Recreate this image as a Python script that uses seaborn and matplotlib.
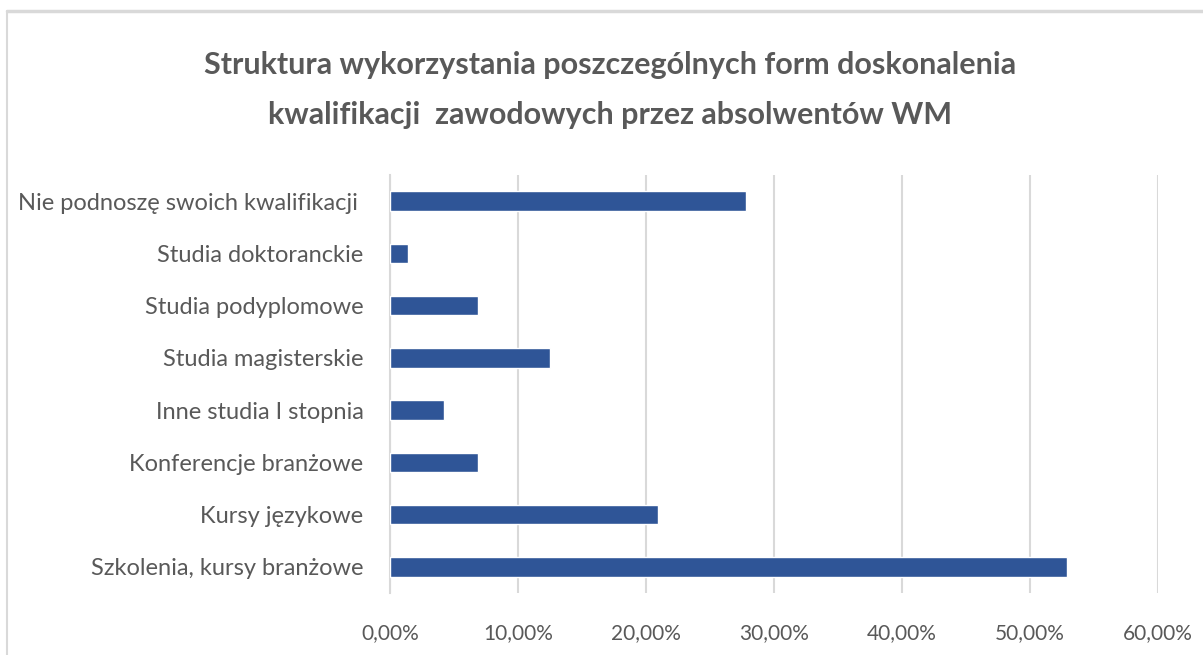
import matplotlib
matplotlib.use("Agg")
import matplotlib.pyplot as plt
import matplotlib.lines as mlines
from matplotlib.ticker import FuncFormatter
import pandas as pd
import seaborn as sns

# dane
kategorie = [
    "Nie podnoszę swoich kwalifikacji ",
    "Studia doktoranckie",
    "Studia podyplomowe",
    "Studia magisterskie",
    "Inne studia I stopnia",
    "Konferencje branżowe",
    "Kursy językowe",
    "Szkolenia, kursy branżowe",
]
udzial = [27.8, 1.4, 6.9, 12.5, 4.2, 6.9, 20.9, 52.9]
ticki = [0, 10, 20, 30, 40, 50, 60]

df = pd.DataFrame({"Forma": kategorie, "Udzial": udzial})

sns.set_style("white")
plt.rcParams["font.family"] = ["Lato", "DejaVu Sans"]

tekst = "#595959"
siatka = "#D9D9D9"

fig = plt.figure(figsize=(12.03, 6.55), dpi=100)
ax = fig.add_axes([390 / 1203, 1 - 593 / 655, 768 / 1203, 418 / 655])

sns.barplot(data=df, x="Udzial", y="Forma", orient="h", color="#2F5597",
            width=0.37, saturation=1, ax=ax, zorder=3)

ax.set_xlim(0, 60)
ax.set_ylim(7.5, -0.5)
ax.set_xticks(ticki)
ax.xaxis.set_major_formatter(FuncFormatter(lambda v, p: f"{v:.2f}%".replace(".", ",")))
ax.grid(axis="x", color=siatka, linewidth=1.5, zorder=0)
ax.set_xlabel("")
ax.set_ylabel("")

for s in ["top", "right", "bottom"]:
    ax.spines[s].set_visible(False)
ax.spines["left"].set_color(siatka)
ax.spines["left"].set_linewidth(1.5)

ax.tick_params(axis="y", length=0, pad=19, labelsize=17, labelcolor=tekst)
ax.tick_params(axis="x", length=0, pad=22, labelsize=15, labelcolor=tekst)

fig.text(0.507, 1 - 65 / 655, "Struktura wykorzystania poszczególnych form doskonalenia",
         ha="center", va="center", fontsize=22, fontweight="bold", color=tekst)
fig.text(0.507, 1 - 115 / 655, "kwalifikacji  zawodowych przez absolwentów WM",
         ha="center", va="center", fontsize=22, fontweight="bold", color=tekst)

# ramka wykresu
fig.add_artist(mlines.Line2D([7 / 1203, 1], [1 - 11 / 655, 1 - 11 / 655],
                             transform=fig.transFigure, color="#D9D9D9", linewidth=2.5))
fig.add_artist(mlines.Line2D([7 / 1203, 7 / 1203], [0, 1 - 11 / 655],
                             transform=fig.transFigure, color="#D9D9D9", linewidth=1.5))

fig.savefig("out.png", dpi=100)
